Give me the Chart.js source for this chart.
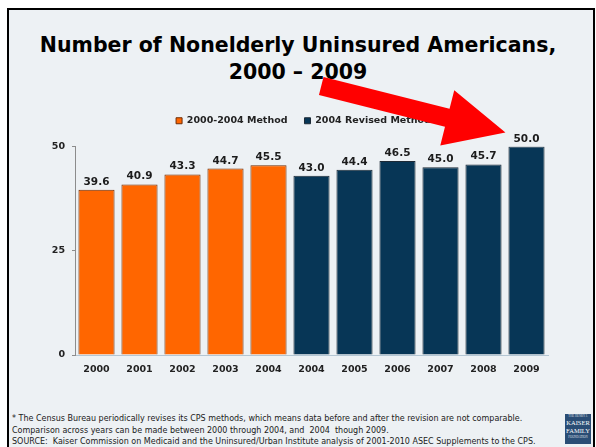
<!DOCTYPE html>
<html>
<head>
<meta charset="utf-8">
<title>Number of Nonelderly Uninsured Americans, 2000 – 2009</title>
<script src="https://cdn.jsdelivr.net/npm/chart.js@4.4.0/dist/chart.umd.min.js"></script>
<style>
  html, body { margin: 0; padding: 0; background: #fff; width: 596px; height: 447px; overflow: hidden; }
  #slide {
    position: absolute; left: 7px; top: 8px; width: 584px; height: 460px;
    border: 2px solid #000; border-bottom: none; background: #edf1f4;
  }
  #title {
    position: absolute; left: 0; top: 32px; width: 596px; text-align: center;
    font: bold 20.5px "DejaVu Sans", sans-serif; line-height: 27px; color: #000;
  }
  #chartBox { position: absolute; left: 0; top: 0; width: 596px; height: 447px; }
  #notes {
    position: absolute; left: 12px; top: 413px; white-space: pre;
    font: 8px "DejaVu Sans", sans-serif; line-height: 11.5px; color: #1a1a1a;
  }
  #logo {
    position: absolute; left: 565px; top: 414px; width: 26px; height: 30px;
    background: #2a4d75; color: #fff; text-align: center;
    font-family: "Liberation Serif", serif;
  }
  #logo .small { font-size: 3px; line-height: 5px; opacity: 0.8; }
  #logo .big { font-size: 6.5px; line-height: 8px; }
</style>
</head>
<body>
<div id="slide"></div>
<div id="title">Number of Nonelderly Uninsured Americans,<br>2000 – 2009</div>
<div id="notes">* The Census Bureau periodically revises its CPS methods, which means data before and after the revision are not comparable.
Comparison across years can be made between 2000 through 2004, and  2004  though 2009.
SOURCE:  Kaiser Commission on Medicaid and the Uninsured/Urban Institute analysis of 2001-2010 ASEC Supplements to the CPS.</div>
<div id="logo"><div class="small">THE HENRY J.</div><div class="big">KAISER</div><div class="big">FAMILY</div><div class="small">FOUNDATION</div></div>
<div id="chartBox"><canvas id="uninsuredChart" width="596" height="447"></canvas></div>

<script>
// millions of nonelderly uninsured, by survey year
const years = ['2000', '2001', '2002', '2003', '2004', '2004', '2005', '2006', '2007', '2008', '2009'];
const oldMethodValues = [39.6, 40.9, 43.3, 44.7, 45.5];
const revisedValues = [43.0, 44.4, 46.5, 45.0, 45.7, 50.0];
const yTickValues = [0, 25, 50];

const oldMethodData = years.map((_, i) => i < oldMethodValues.length ? oldMethodValues[i] : null);
const revisedData = years.map((_, i) => i >= oldMethodValues.length ? revisedValues[i - oldMethodValues.length] : null);

const boldFont = { family: 'DejaVu Sans', size: 9.5, weight: 'bold' };

// legend sits a bit higher above the plot and slightly right of centre
const legendPlacement = {
    id: 'legendPlacement',
    beforeInit(chart) {
        const fit = chart.legend.fit;
        chart.legend.fit = function () {
            fit.call(this);
            this.height += 11;
        };
    },
    afterLayout(chart) {
        chart.legend.left += 7;
        chart.legend.right += 7;
    }
};

// numbers over each bar
const valueLabels = {
    id: 'valueLabels',
    afterDatasetsDraw(chart) {
        const ctx = chart.ctx;
        ctx.save();
        ctx.font = 'bold 10.5px "DejaVu Sans"';
        ctx.fillStyle = '#1c1c1c';
        ctx.textAlign = 'center';
        ctx.textBaseline = 'alphabetic';
        chart.data.datasets.forEach((ds, di) => {
            chart.getDatasetMeta(di).data.forEach((bar, i) => {
                const v = ds.data[i];
                if (v == null) return;
                ctx.fillText(v.toFixed(1), bar.x, bar.y - 5);
            });
        });
        ctx.restore();
    }
};

// big red arrow pointing at the last bar
const pointerArrow = {
    id: 'pointerArrow',
    afterDraw(chart) {
        const meta = chart.getDatasetMeta(1);
        const last = meta.data[meta.data.length - 1];
        const tipX = last.x - last.width / 2 - 3;
        const tipY = last.y - 14;
        const angle = Math.atan2(47, 186);
        const len = 190, headLen = 60, headHalf = 28.5, shaftHalf = 9.3;
        const ctx = chart.ctx;
        ctx.save();
        ctx.translate(tipX, tipY);
        ctx.rotate(angle);
        ctx.beginPath();
        ctx.moveTo(0, 0);
        ctx.lineTo(-headLen, -headHalf);
        ctx.lineTo(-headLen, -shaftHalf);
        ctx.lineTo(-len, -shaftHalf);
        ctx.lineTo(-len, shaftHalf);
        ctx.lineTo(-headLen, shaftHalf);
        ctx.lineTo(-headLen, headHalf);
        ctx.closePath();
        ctx.fillStyle = '#ff0000';
        ctx.fill();
        ctx.restore();
    }
};

const ctx = document.getElementById('uninsuredChart').getContext('2d');
new Chart(ctx, {
    type: 'bar',
    data: {
        labels: years,
        datasets: [
            {
                label: '2000-2004 Method',
                data: oldMethodData,
                backgroundColor: '#ff6600',
                borderColor: '#6e2c05',
                borderWidth: 1,
                grouped: false,
                barPercentage: 0.84,
                categoryPercentage: 1
            },
            {
                label: '2004 Revised Method',
                data: revisedData,
                backgroundColor: '#073656',
                borderColor: '#1d2a36',
                borderWidth: 1,
                grouped: false,
                barPercentage: 0.84,
                categoryPercentage: 1
            }
        ]
    },
    options: {
        responsive: false,
        devicePixelRatio: 1,
        animation: false,
        layout: { padding: { top: 99, left: 45, right: 48, bottom: 67 } },
        plugins: {
            legend: {
                position: 'top',
                labels: { boxWidth: 6, boxHeight: 6, padding: 17, color: '#222', font: boldFont }
            },
            tooltip: { enabled: false }
        },
        scales: {
            x: {
                grid: { display: false, drawTicks: false },
                border: { color: '#b4c6d3' },
                ticks: { color: '#222', font: boldFont, padding: 9 },
                afterFit(scale) { scale.height = 25; }
            },
            y: {
                min: 0,
                max: 50,
                afterBuildTicks(scale) { scale.ticks = yTickValues.map(v => ({ value: v })); },
                grid: { drawOnChartArea: false, tickLength: 3, color: '#8c8c8c' },
                border: { color: '#8c8c8c' },
                ticks: { color: '#222', font: boldFont, padding: 7 },
                afterFit(scale) { scale.width = 30; }
            }
        }
    },
    plugins: [legendPlacement, valueLabels, pointerArrow]
});
</script>
</body>
</html>
